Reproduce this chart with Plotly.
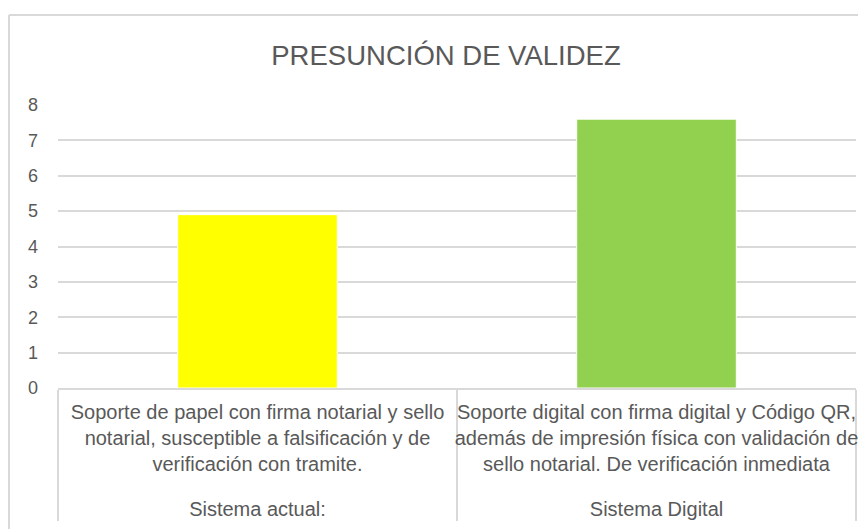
import plotly.graph_objects as go

# Data
groups = ["<br>Sistema actual:", "<br>Sistema Digital"]
descriptions = [
    "Soporte de papel con firma notarial y sello<br>notarial, susceptible a falsificación y de<br>verificación con tramite.",
    "Soporte digital con firma digital y Código QR,<br>además de impresión física con validación de<br>sello notarial. De verificación inmediata",
]
values = [4.9, 7.6]
bar_colors = ["#FFFF00", "#92D050"]
y_ticks = [0, 1, 2, 3, 4, 5, 6, 7, 8]

FONT = "Liberation Sans, Arial, sans-serif"
GRAY = "#595959"
LINE = "#D9D9D9"

# The page body has an 8px margin, so the figure is laid out in page coords minus 8.
W, H = 858, 521
L, R, T, B = 50, 10, 97, 141
PW = W - L - R
PH = H - T - B

fig = go.Figure(
    go.Bar(
        x=[groups, descriptions],
        y=values,
        marker=dict(color=bar_colors, line=dict(color="white", width=1)),
        width=0.4,
    )
)

fig.update_layout(
    width=W,
    height=H,
    margin=dict(l=L, r=R, t=T, b=B),
    paper_bgcolor="white",
    plot_bgcolor="white",
    showlegend=False,
    font=dict(family=FONT, color=GRAY),
    title=dict(
        text="PRESUNCIÓN DE VALIDEZ",
        font=dict(family=FONT, size=27.5, color=GRAY),
        x=438 / W,
        xref="container",
        xanchor="center",
        y=1 - 47 / H,
        yref="container",
        yanchor="middle",
    ),
    bargap=0.6,
)

fig.update_yaxes(
    range=[0, 8],
    tickvals=y_ticks,
    showgrid=True,
    gridcolor=LINE,
    gridwidth=1.5,
    zeroline=False,
    showline=False,
    tickfont=dict(family=FONT, size=18, color=GRAY),
    ticklabelstandoff=19,
    automargin=False,
)

fig.update_xaxes(
    type="multicategory",
    showline=True,
    linecolor=LINE,
    linewidth=1.5,
    showgrid=False,
    showdividers=True,
    dividercolor=LINE,
    dividerwidth=1.5,
    tickfont=dict(family=FONT, size=20, color=GRAY),
    tickangle=0,
    ticks="",
    ticklabelstandoff=5,
    automargin=False,
)

# Chart-area border (Excel style)
top = 1 + (T - 7) / PH
left = (1 - L) / PW
fig.add_shape(type="line", xref="paper", yref="paper",
              x0=left, x1=(W + 20 - L) / PW, y0=top, y1=top,
              line=dict(color=LINE, width=2))
fig.add_shape(type="line", xref="paper", yref="paper",
              x0=left, x1=left, y0=top, y1=-(B + 20) / PH,
              line=dict(color=LINE, width=2))

fig.write_html("out.html")
